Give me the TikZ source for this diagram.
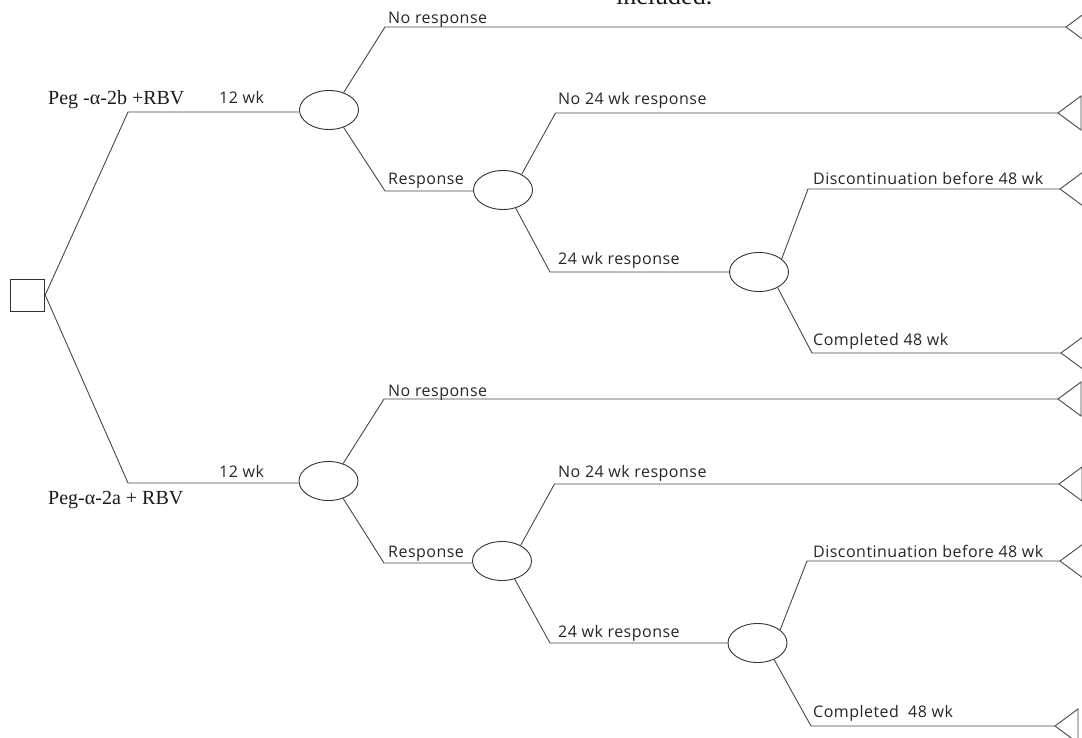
\documentclass[tikz,border=0pt]{standalone}
\usepackage{fontspec}
\setmainfont{Liberation Serif}
\newfontfamily\lblfont[LetterSpace=3]{Open Sans}
\usetikzlibrary{shapes.geometric}

\tikzset{
  branch/.style={draw=black!72, line width=0.9pt},
  decision/.style={draw=black!80, line width=0.9pt, minimum width=34.5pt, minimum height=32pt, inner sep=0pt},
  chance/.style={ellipse, draw=black!80, line width=0.9pt, minimum width=59pt, minimum height=39pt, inner sep=0pt},
  lbl/.style={font=\lblfont\fontsize{16}{19}\selectfont, text=black!85, inner sep=0pt, anchor=base west},
  arm/.style={font=\rmfamily\fontsize{20}{23}\selectfont, text=black!90, inner sep=0pt, anchor=base west},
}

\begin{document}
\begin{tikzpicture}[x=1pt,y=-1pt]
\useasboundingbox (0,0) rectangle (1082,738);

\node[arm, font=\rmfamily\fontsize{26}{28}\selectfont] (cap) at (616,5) {included.};

\node[decision] (root) at (27.5,295) {};
\coordinate (ta) at (128,112);
\coordinate (tb) at (128,483);

% Peg-alpha-2b arm
\begin{scope}
\node[chance] (c1) at (329,110) {};
\node[chance] (c2) at (503,190) {};
\node[chance] (c3) at (759,272) {};

\coordinate (n1) at (385,27);
\coordinate (r1) at (385,191);
\coordinate (q1) at (555.5,113);
\coordinate (w1) at (550,272);
\coordinate (d1) at (808,189);
\coordinate (m1) at (812,353);
\coordinate (e1) at (1066,27);
\coordinate (e2) at (1058,113);
\coordinate (e3) at (1060,189);
\coordinate (e4) at (1061,353);

\draw[branch] (root.east) -- (ta) -- (c1.west |- ta);
\draw[branch] (c1.50) -- (n1) -- (e1);
\draw[branch] (c1.-50) -- (r1) -- (c2.west |- r1);
\draw[branch] (c2.40) -- (q1) -- (e2);
\draw[branch] (c2.-55) -- (w1) -- (c3.west);
\draw[branch] (c3.30) -- (d1) -- (e3);
\draw[branch] (c3.-40) -- (m1) -- (e4);

\node[arm] (arm1) at (48,105) {Peg -α-2b +RBV};
\node[lbl] (wk1) at (219,104) {12 wk};
\node[lbl] (nr1) at (388,24) {No response};
\node[lbl] (rs1) at (388,185) {Response};
\node[lbl] (nq1) at (558,105) {No 24 wk response};
\node[lbl] (wq1) at (558,265) {24 wk response};
\node[lbl] (dc1) at (813,185) {Discontinuation before 48 wk};
\node[lbl] (cp1) at (813,345) {Completed 48 wk};
\end{scope}

% Peg-alpha-2a arm
\begin{scope}
\node[chance] (c4) at (328.5,481) {};
\node[chance] (c5) at (502,561) {};
\node[chance] (c6) at (757.5,643) {};

\coordinate (n2) at (384,399);
\coordinate (r2) at (384,563);
\coordinate (q2) at (554.5,484);
\coordinate (w2) at (550,643);
\coordinate (d2) at (807,561);
\coordinate (m2) at (811,726);
\coordinate (e5) at (1058,399);
\coordinate (e6) at (1059,484);
\coordinate (e7) at (1060,561);
\coordinate (e8) at (1055,726);

\draw[branch] (root.east) -- (tb) -- (c4.west |- tb);
\draw[branch] (c4.50) -- (n2) -- (e5);
\draw[branch] (c4.-50) -- (r2) -- (c5.west |- r2);
\draw[branch] (c5.40) -- (q2) -- (e6);
\draw[branch] (c5.-55) -- (w2) -- (c6.west);
\draw[branch] (c6.30) -- (d2) -- (e7);
\draw[branch] (c6.-45) -- (m2) -- (e8);

\node[lbl] (wk2) at (219,477) {12 wk};
\node[arm] (arm2) at (48,504) {Peg-α-2a + RBV};
\node[lbl] (nr2) at (388,396) {No response};
\node[lbl] (rs2) at (388,557) {Response};
\node[lbl] (nq2) at (558,477) {No 24 wk response};
\node[lbl] (wq2) at (558,637) {24 wk response};
\node[lbl] (dc2) at (813,557) {Discontinuation before 48 wk};
\node[lbl] (cp2) at (813,717) {Completed\ \ 48 wk};
\end{scope}

\foreach \e in {e1,e2,e3,e4,e5,e6,e7,e8}
  \draw[branch] (\e) -- ++(23,-17) -- ++(0,34) -- cycle;

\end{tikzpicture}
\end{document}
